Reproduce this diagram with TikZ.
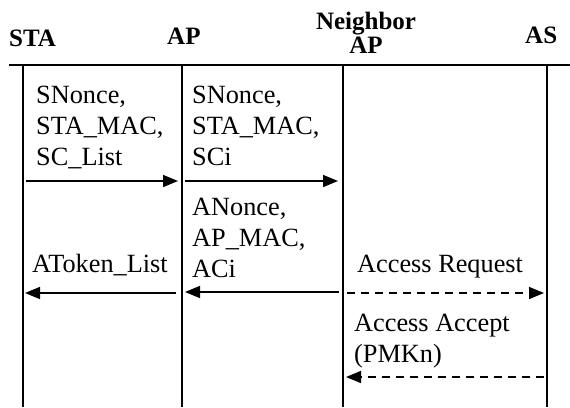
\documentclass[tikz,border=0pt]{standalone}
\usepackage{fontspec}
\setmainfont{Liberation Serif}
\usetikzlibrary{arrows.meta}
\begin{document}
\begin{tikzpicture}[x=1pt,y=-1pt,
  rule/.style={line width=1.6pt},
  msg/.style={line width=1.6pt,-{Triangle[length=15pt,width=12pt]}},
  dmsg/.style={msg,dash pattern=on 8pt off 6pt},
  head/.style={font=\fontsize{25}{25}\selectfont\bfseries,inner sep=0pt,anchor=base west},
  lbl/.style={font=\fontsize{26.3}{31}\selectfont,inner sep=0pt,anchor=base west,align=left}]
\useasboundingbox (0,0) rectangle (570,407);

% entity headings (multi-line nodes sit on the baseline of their last line)
\node[head] (hsta) at (9,46) {STA};
\node[head] (hap) at (167,44) {AP};
\node[head,anchor=base,align=center,font=\fontsize{25}{24}\selectfont\bfseries] (hnap) at (366,53) {Neighbor\\AP};
\node[head] (has) at (525,43) {AS};

% heading rule and lifelines
\coordinate (rl) at (9,65);
\coordinate (rr) at (570,65);
\draw[rule] (rl) -- (rr);
\foreach \n/\x in {sta/23, ap/182, nap/343, as/547}{
  \coordinate (\n T) at (\x,65);
  \coordinate (\n B) at (\x,407);
  \draw[rule] (\n T) -- (\n B);
}

% message endpoints
\coordinate (m1a) at (26,181);  \coordinate (m1b) at (178,181);
\coordinate (m2a) at (185,181); \coordinate (m2b) at (338,181);
\coordinate (m3a) at (339,292); \coordinate (m3b) at (185,292);
\coordinate (m4a) at (176,293); \coordinate (m4b) at (25,293);
\coordinate (m5a) at (347,293); \coordinate (m5b) at (544,293);
\coordinate (m6a) at (544,377); \coordinate (m6b) at (346,377);

\draw[msg] (m1a) -- (m1b);
\draw[msg] (m2a) -- (m2b);
\draw[msg] (m3a) -- (m3b);
\draw[msg] (m4a) -- (m4b);
\draw[dmsg] (m5a) -- (m5b);
\draw[dmsg] (m6a) -- (m6b);

% message labels
\node[lbl] (t1) at (36,165) {SNonce,\\STA\_MAC,\\SC\_List};
\node[lbl] (t2) at (192,165) {SNonce,\\STA\_MAC,\\SCi};
\node[lbl] (t3) at (192,277) {ANonce,\\AP\_MAC,\\ACi};
\node[lbl] (t4) at (32,272) {AToken\_List};
\node[lbl] (t5) at (357,272) {Access Request};
\node[lbl] (t6) at (354,362) {Access Accept\\(PMKn)};
\end{tikzpicture}
\end{document}
